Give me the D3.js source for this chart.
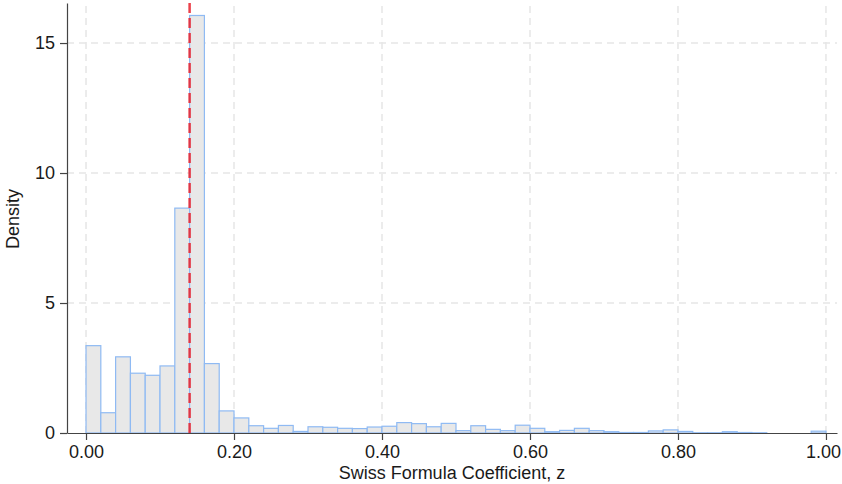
<!DOCTYPE html>
<html>
<head>
<meta charset="utf-8">
<script src="https://cdn.jsdelivr.net/npm/d3@7"></script>
<style>
  body { margin: 0; background: #fff; }
  svg text { font-family: "Liberation Sans", Helvetica, Arial, sans-serif; fill: #1a1a1a; }
</style>
</head>
<body>
<div id="chart"></div>
<script>
// histogram bins (left edge) and density heights, bin width 0.02
var binLeft = [0.00, 0.02, 0.04, 0.06, 0.08, 0.10, 0.12, 0.14, 0.16, 0.18,
               0.20, 0.22, 0.24, 0.26, 0.28, 0.30, 0.32, 0.34, 0.36, 0.38,
               0.40, 0.42, 0.44, 0.46, 0.48, 0.50, 0.52, 0.54, 0.56, 0.58,
               0.60, 0.62, 0.64, 0.66, 0.68, 0.70, 0.72, 0.74, 0.76, 0.78,
               0.80, 0.82, 0.84, 0.86, 0.88, 0.90, 0.92, 0.94, 0.96, 0.98];
var density = [3.36, 0.78, 2.93, 2.30, 2.22, 2.58, 8.65, 16.06, 2.67, 0.85,
               0.58, 0.28, 0.18, 0.29, 0.06, 0.24, 0.22, 0.18, 0.17, 0.23,
               0.26, 0.40, 0.36, 0.24, 0.37, 0.09, 0.28, 0.14, 0.09, 0.30,
               0.18, 0.05, 0.10, 0.18, 0.09, 0.05, 0.02, 0.02, 0.08, 0.12,
               0.06, 0.01, 0.01, 0.05, 0.02, 0.01, 0, 0, 0, 0.07];
var binWidth = 0.02;
var refLine = [0.14];
var xTicks = [0, 0.2, 0.4, 0.6, 0.8, 1.0];
var yTicks = [0, 5, 10, 15];

var width = 842, height = 484;
var svg = d3.select('#chart').append('svg')
  .attr('width', width).attr('height', height);

var x = d3.scaleLinear().domain([-0.0257, 1.0149]).range([67, 837]);
var y = d3.scaleLinear().domain([0, 16.54]).range([433, 3]);

// grid
var grid = svg.append('g');
grid.selectAll('.vg').data(xTicks).enter().append('line')
  .attr('x1', function(d) { return x(d); }).attr('x2', function(d) { return x(d); })
  .attr('y1', y(0)).attr('y2', y.range()[1])
  .attr('stroke', '#e6e6e6').attr('stroke-width', 1.5).attr('stroke-dasharray', '7,5');
grid.selectAll('.hg').data(yTicks.filter(function(d) { return d > 0; })).enter().append('line')
  .attr('x1', x.range()[0]).attr('x2', x.range()[1])
  .attr('y1', function(d) { return y(d); }).attr('y2', function(d) { return y(d); })
  .attr('stroke', '#e6e6e6').attr('stroke-width', 1.5).attr('stroke-dasharray', '7,5');

// bars
svg.append('g').selectAll('rect').data(density).enter().append('rect')
  .attr('x', function(d, i) { return x(binLeft[i]); })
  .attr('width', function(d, i) { return x(binLeft[i] + binWidth) - x(binLeft[i]); })
  .attr('y', function(d) { return y(d); })
  .attr('height', function(d) { return y(0) - y(d); })
  .attr('fill', '#e8e8e8')
  .attr('stroke', '#8fbaf3')
  .attr('stroke-width', 1.2);

// reference line
svg.append('g').selectAll('line').data(refLine).enter().append('line')
  .attr('x1', function(d) { return x(d); }).attr('x2', function(d) { return x(d); })
  .attr('y1', y(0)).attr('y2', y.range()[1])
  .attr('stroke', '#e8202a').attr('stroke-opacity', 0.85)
  .attr('stroke-width', 2.5).attr('stroke-dasharray', '10,5');

// axes
var xAxis = svg.append('g')
  .attr('transform', 'translate(0,' + y(0) + ')')
  .call(d3.axisBottom(x).tickValues(xTicks).tickFormat(d3.format('.2f')).tickSizeInner(7).tickSizeOuter(0).tickPadding(5));
var yAxis = svg.append('g')
  .attr('transform', 'translate(' + x.range()[0] + ',0)')
  .call(d3.axisLeft(y).tickValues(yTicks).tickFormat(d3.format('d')).tickSizeInner(7).tickSizeOuter(0).tickPadding(5));

[xAxis, yAxis].forEach(function(a) {
  a.select('.domain').attr('stroke', '#444').attr('stroke-width', 1.2);
  a.selectAll('.tick line').attr('stroke', '#444').attr('stroke-width', 1.2);
  a.selectAll('.tick text').style('font-size', '18px').attr('fill', '#1a1a1a');
});
// keep the last x label inside the page
xAxis.selectAll('.tick text').filter(function(d) { return d === 1; }).attr('dx', -3);

// axis titles
svg.append('text')
  .attr('x', 452).attr('y', 479)
  .attr('text-anchor', 'middle')
  .style('font-size', '18px')
  .text('Swiss Formula Coefficient, z');

svg.append('text')
  .attr('transform', 'translate(19,219) rotate(-90)')
  .attr('text-anchor', 'middle')
  .style('font-size', '18px')
  .text('Density');
</script>
</body>
</html>
